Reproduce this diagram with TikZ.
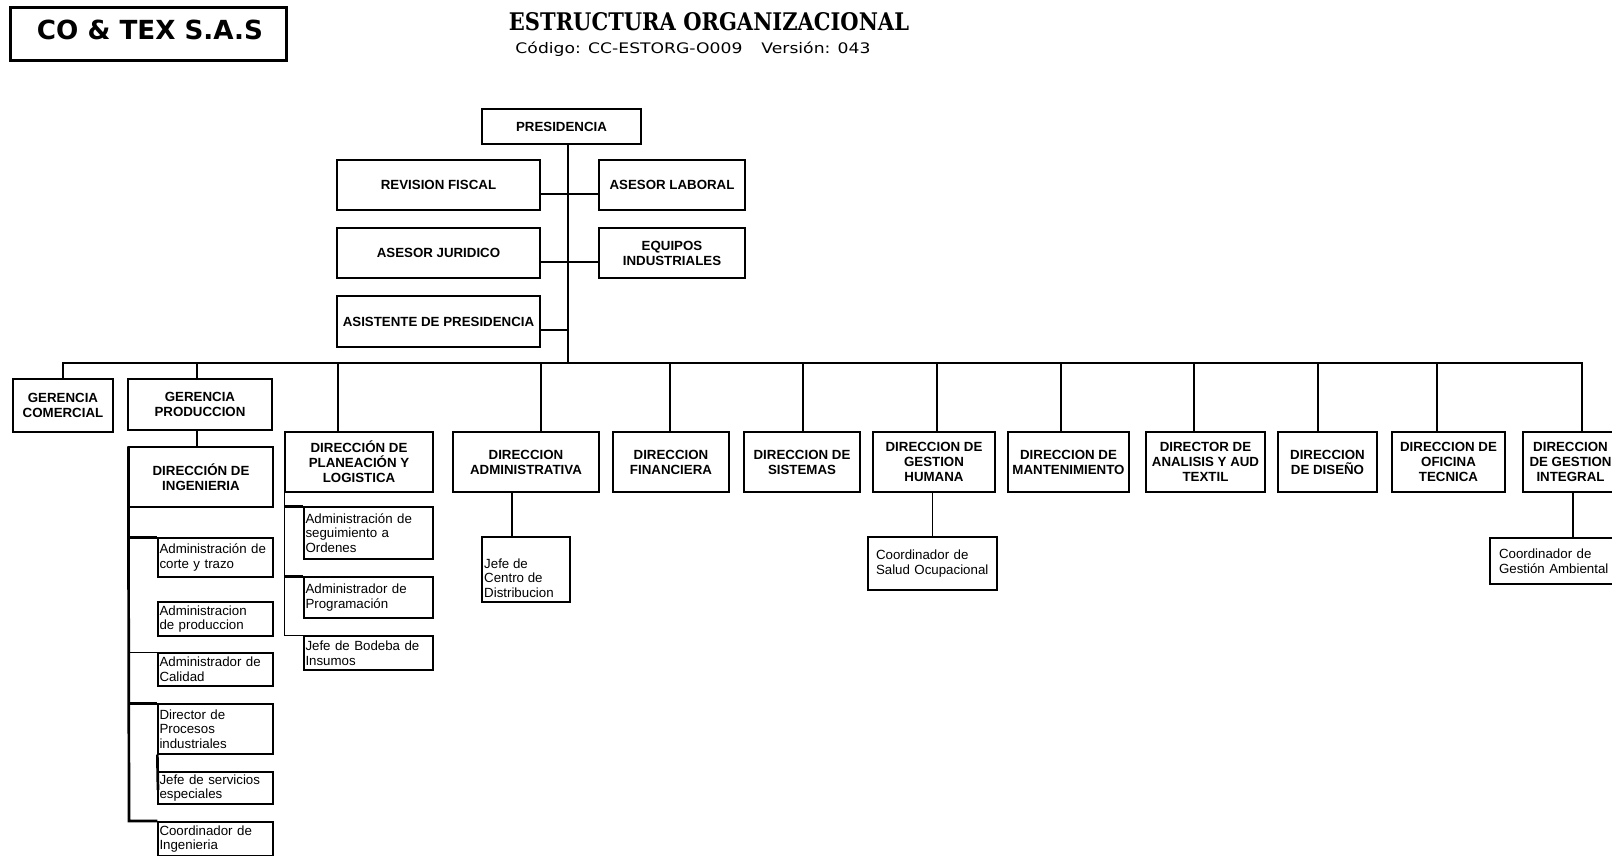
\documentclass[tikz,border=0pt]{standalone}
\usepackage{fontspec}
\usepackage{graphicx}
\setmainfont{Liberation Sans}
\newfontfamily\hdrsans{DejaVu Sans}
\newfontfamily\hdrserif{DejaVu Serif}
\tikzset{
  boxbase/.style={draw=black, line width=1.3pt, fill=white, inner sep=0pt},
  cbox/.style={boxbase, align=center, font=\bfseries\fontsize{13.3}{15}\selectfont},
  lbox/.style={boxbase, align=left, font=\fontsize{13.3}{14.6}\selectfont},
  thickln/.style={line width=2.7pt, line join=miter},
  thinln/.style={line width=1.3pt},
}
% name x1 y1 x2 y2 text
\newcommand{\BoxC}[6]{\node[cbox,minimum width={(#4-#2)*1pt},minimum height={(#5-#3)*1pt}] (#1) at ({(#2+#4)/2},{(#3+#5)/2}) {#6};}
% name x1 y1 x2 y2 inset text
\newcommand{\BoxL}[7]{\node[lbox,minimum width={(#4-#2)*1pt},minimum height={(#5-#3)*1pt},text width={(#4-#2-2*#6)*1pt},inner xsep={#6*1pt}] (#1) at ({(#2+#4)/2},{(#3+#5)/2}) {#7};}
\begin{document}
\begin{tikzpicture}[x=1pt,y=-1pt]
\useasboundingbox (0,0) rectangle (1612,855);
\clip (0,0) rectangle (1612,855);
\fill[white] (0,0) rectangle (1612,855);

% header
\node[draw=black, line width=3pt, minimum width=276pt, minimum height=53pt, inner sep=0pt] (logo) at (148,33.5) {};
\node[anchor=base, inner sep=0pt] (logoT) at (150,39) {\resizebox{226pt}{19.5pt}{\hdrsans\bfseries CO \& TEX S.A.S}};
\node[anchor=base, inner sep=0pt] (title) at (709,30) {\resizebox{400pt}{18pt}{\hdrserif\bfseries ESTRUCTURA ORGANIZACIONAL}};
\node[anchor=base, inner sep=0pt] (sub) at (693,53) {\resizebox{355pt}{\height}{\hdrsans\fontsize{14.5}{15}\selectfont Código: CC-ESTORG-O009\hspace{1.1em}Versión: 043}};

% top level
\BoxC{pres}{482}{109}{641}{144}{PRESIDENCIA}
\BoxC{rf}{337}{160}{540}{210}{REVISION FISCAL}
\BoxC{al}{599}{160}{745}{210}{ASESOR LABORAL}
\BoxC{aj}{337}{228}{540}{278}{ASESOR JURIDICO}
\BoxC{ei}{599}{228}{745}{278}{EQUIPOS\\INDUSTRIALES}
\BoxC{ap}{337}{296}{540}{347}{ASISTENTE DE PRESIDENCIA}

% second level
\BoxC{gc}{13}{379}{113}{432}{GERENCIA\\COMERCIAL}
\BoxC{gp}{128}{379}{272}{430}{GERENCIA\\PRODUCCION}
\BoxC{ing}{129}{447}{273}{507}{DIRECCIÓN DE\\INGENIERIA}
\BoxC{pl}{285}{432}{433}{492}{DIRECCIÓN DE\\PLANEACIÓN Y\\LOGISTICA}
\BoxC{adm}{453}{432}{599}{492}{DIRECCION\\ADMINISTRATIVA}
\BoxC{fin}{613}{432}{729}{492}{DIRECCION\\FINANCIERA}
\BoxC{sis}{744}{432}{860}{492}{DIRECCION DE\\SISTEMAS}
\BoxC{gh}{873}{432}{995}{492}{DIRECCION DE\\GESTION\\HUMANA}
\BoxC{man}{1008}{432}{1129}{492}{DIRECCION DE\\MANTENIMIENTO}
\BoxC{ana}{1146}{432}{1265}{492}{DIRECTOR DE\\ANALISIS Y AUD\\TEXTIL}
\BoxC{dis}{1278}{432}{1377}{492}{DIRECCION\\DE DISEÑO}
\BoxC{ofi}{1392}{432}{1505}{492}{DIRECCION DE\\OFICINA\\TECNICA}
\BoxC{gi}{1523}{432}{1618}{492}{DIRECCION\\DE GESTION\\INTEGRAL}

% ingenieria subordinates
\BoxL{ic}{158}{538}{273}{577}{1.5}{Administración de\\corte y trazo}
\BoxL{ipr}{158}{602}{273}{636}{1.5}{Administracion\\de produccion}
\BoxL{ical}{158}{653}{273}{686}{1.5}{Administrador de\\Calidad}
\BoxL{ipi}{158}{704}{273}{754}{1.5}{Director de\\Procesos\\industriales}
\BoxL{ise}{158}{772}{273}{804}{1.5}{Jefe de servicios\\especiales}
\BoxL{ico}{158}{822}{273}{856}{1.5}{Coordinador de\\Ingenieria}

% planeacion subordinates
\BoxL{ps}{304}{507}{433}{559}{1.5}{Administración de\\seguimiento a\\Ordenes}
\BoxL{pp}{304}{577}{433}{618}{1.5}{Administrador de\\Programación}
\BoxL{pb}{304}{636}{433}{670}{1.5}{Jefe de Bodeba de\\Insumos}

% other subordinates
\node[boxbase, minimum width=88pt, minimum height=65pt] (jcd) at (526,569.5) {};
\node[anchor=west, align=left, inner sep=0pt, font=\fontsize{13.3}{14.6}\selectfont] (jcdT) at (484,578) {Jefe de\\Centro de\\Distribucion};
\BoxL{cso}{868}{537}{997}{590}{8}{Coordinador de\\Salud Ocupacional}
\BoxL{cga}{1490}{538}{1620}{584}{9}{Coordinador de\\Gestión Ambiental}

% coordinates
\coordinate (busL) at (63,363);
\coordinate (busR) at (1582,363);
\coordinate (pj) at (568,363);
\coordinate (j1) at (568,194);
\coordinate (j2) at (568,262);
\coordinate (j3) at (568,330);
\coordinate (dGP) at (197,363);
\coordinate (dPL) at (338,363);
\coordinate (dADM) at (541,363);
\coordinate (dFIN) at (670,363);
\coordinate (dSIS) at (803,363);
\coordinate (dGH) at (937,363);
\coordinate (dMAN) at (1061,363);
\coordinate (dANA) at (1194,363);
\coordinate (dDIS) at (1318,363);
\coordinate (dOFI) at (1437,363);
\coordinate (sGI) at (1582,380);
\coordinate (cJ) at (512,0);
\coordinate (cGA) at (1573,0);
\coordinate (ijc) at (129,821);
\coordinate (svE) at (158,790);

% presidency connectors
\draw[thickln] (pj |- pres.south) -- (pj);
\draw[thickln] (rf.east |- j1) -- (al.west |- j1);
\draw[thickln] (aj.east |- j2) -- (ei.west |- j2);
\draw[thickln] (ap.east |- j3) -- (j3);

% bus
\draw[thickln] (gc.north) -- (busL) -- (busR) -- (sGI);
\draw[thinln] (sGI) -- (sGI |- gi.north);
\draw[thickln] (dGP) -- (dGP |- gp.north);
\draw[thickln] (dGP |- gp.south) -- (dGP |- ing.north);

% drops with thick stub
\foreach \d/\n in {dPL/pl, dADM/adm, dFIN/fin, dGH/gh, dMAN/man, dDIS/dis, dOFI/ofi}{
  \draw[thinln] (\d) -- (\d |- \n.north);
  \draw[thickln] (\d) -- ++(0,17);
}
\draw[thinln] (dSIS) -- (dSIS |- sis.north);
\draw[thinln] (dANA) -- (dANA |- ana.north);

% ingenieria spine
\draw[thickln] (ing.north west) -- (ijc) -- (ijc -| ico.west);
\draw[thickln] (ic.north west) -- (ic.north west -| ing.west);
\draw[thinln] (ical.north west) -- (ical.north west -| ing.west);
\draw[thickln] (ipi.north west) -- (ipi.north west -| ing.west);
\draw[thickln] (ipi.south west) -- (svE);

% planeacion spine
\draw[thinln] (pl.south west) -- (pl.south west |- pb.north west) -- (pb.north west);
\draw[thickln] (ps.north west) -- (ps.north west -| pl.west);
\draw[thickln] (pp.north west) -- (pp.north west -| pl.west);

% other subordinate connectors
\draw[thinln] (cJ |- adm.south) -- (cJ |- jcd.north);
\draw[thinln] (cso.north) -- (cso.north |- gh.south);
\draw[thinln] (cGA |- gi.south) -- (cGA |- cga.north);
\end{tikzpicture}
\end{document}
